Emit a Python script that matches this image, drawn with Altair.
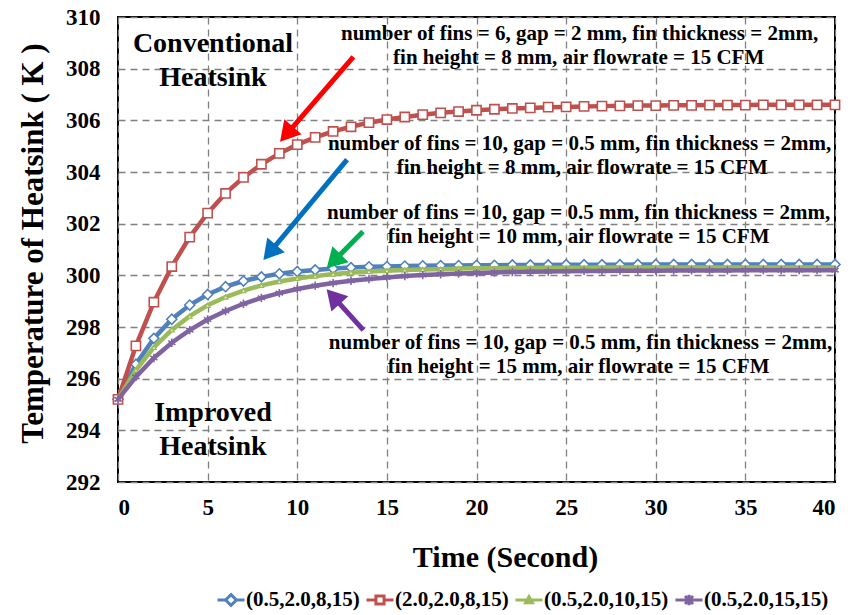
import math
import altair as alt
import pandas as pd

# ---------------- data ----------------
time_s = list(range(41))
series_names = ["(0.5,2.0,8,15)", "(2.0,2.0,8,15)", "(0.5,2.0,10,15)", "(0.5,2.0,15,15)"]
series_colors = ["#4F81BD", "#C0504D", "#9BBB59", "#8064A2"]

blue_T = [295.2, 296.56, 297.56, 298.30, 298.85, 299.26, 299.56, 299.78, 299.94, 300.06,
          300.15, 300.21, 300.26, 300.30, 300.33, 300.34, 300.36, 300.37, 300.38, 300.38,
          300.39, 300.39, 300.40, 300.40, 300.40, 300.41, 300.41, 300.41, 300.41, 300.42,
          300.42, 300.42, 300.42, 300.42, 300.42, 300.42, 300.42, 300.42, 300.42, 300.42, 300.42]
red_T = [295.2, 297.27, 298.96, 300.34, 301.48, 302.41, 303.17, 303.79, 304.30, 304.72,
         305.06, 305.34, 305.57, 305.75, 305.91, 306.03, 306.13, 306.22, 306.29, 306.34,
         306.39, 306.43, 306.46, 306.48, 306.51, 306.52, 306.54, 306.55, 306.56, 306.57,
         306.57, 306.58, 306.58, 306.59, 306.59, 306.59, 306.60, 306.60, 306.60, 306.60, 306.60]
green_T = [295.2, 296.33, 297.21, 297.89, 298.42, 298.84, 299.16, 299.41, 299.61, 299.76,
           299.88, 299.97, 300.05, 300.10, 300.15, 300.18, 300.21, 300.23, 300.24, 300.26,
           300.27, 300.27, 300.28, 300.28, 300.29, 300.29, 300.29, 300.30, 300.30, 300.30,
           300.30, 300.30, 300.30, 300.30, 300.30, 300.30, 300.30, 300.30, 300.30, 300.30, 300.30]
purple_T = [295.2, 296.07, 296.80, 297.39, 297.88, 298.29, 298.62, 298.90, 299.13, 299.31,
            299.47, 299.60, 299.70, 299.79, 299.86, 299.92, 299.97, 300.01, 300.04, 300.07,
            300.09, 300.11, 300.13, 300.14, 300.15, 300.16, 300.17, 300.17, 300.18, 300.18,
            300.18, 300.19, 300.19, 300.19, 300.19, 300.20, 300.20, 300.20, 300.20, 300.20, 300.20]

x_ticks = [0, 5, 10, 15, 20, 25, 30, 35, 40]
y_ticks = [292, 294, 296, 298, 300, 302, 304, 306, 308, 310]

# annotation texts and anchor points (data units)
note_text = ["Conventional", "Heatsink", "Improved", "Heatsink"]
note_t = [5.3, 5.3, 5.3, 5.3]
note_T = [308.95, 307.64, 294.67, 293.35]

desc_text = [
    "number of fins = 6, gap = 2 mm, fin thickness = 2mm,",
    "fin height = 8 mm, air flowrate = 15 CFM",
    "number of fins = 10, gap = 0.5 mm, fin thickness = 2mm,",
    "fin height = 8 mm, air flowrate = 15 CFM",
    "number of fins = 10, gap = 0.5 mm, fin thickness = 2mm,",
    "fin height = 10 mm, air flowrate = 15 CFM",
    "number of fins = 10, gap = 0.5 mm, fin thickness = 2mm,",
    "fin height = 15 mm, air flowrate = 15 CFM",
]
desc_t = [25.75, 25.7, 25.75, 25.9, 25.7, 25.7, 25.8, 25.7]
desc_T = [309.34, 308.41, 305.08, 304.15, 302.41, 301.48, 297.38, 296.45]

arrow_color = ["#FF0000", "#0070C0", "#00B050", "#7030A0"]
arrow_tail_t = [13.13, 12.78, 13.67, 13.69]
arrow_tail_T = [308.46, 304.48, 301.70, 297.88]
arrow_head_t = [9.04, 8.11, 11.64, 11.64]
arrow_head_T = [305.17, 300.59, 300.27, 299.46]

# ---------------- layout ----------------
PLOT_W, PLOT_H = 717, 465
X_MAX, Y_MIN, Y_MAX = 40, 292, 310
FONT = "Liberation Serif"

series_df = pd.DataFrame({
    "t": time_s * 4,
    "T": blue_T + red_T + green_T + purple_T,
    "series": sum([[n] * len(time_s) for n in series_names], []),
})

xs = alt.Scale(domain=[0, X_MAX], nice=False, zero=False)
ys = alt.Scale(domain=[Y_MIN, Y_MAX], nice=False, zero=False)

X = alt.X("t:Q", scale=xs, axis=alt.Axis(
    values=x_ticks, title="Time (Second)", titleX=387, titleY=75,
    titleBaseline="middle", titleAlign="center"))
Y = alt.Y("T:Q", scale=ys, axis=alt.Axis(
    values=y_ticks, title="Temperature of Heatsink ( K )", titleX=-85, titleY=226,
    titleAngle=270, titleBaseline="middle", titleAlign="center", titleFontSize=31))

marker_specs = [
    dict(shape="diamond", size=100, fill="white", sw=1.6),
    dict(shape="square", size=85, fill="white", sw=1.6),
    dict(shape="triangle-up", size=22, fill="#E8F0D8", sw=1.2),
    dict(shape="M0,-1V1M-0.87,-0.5L0.87,0.5M-0.87,0.5L0.87,-0.5", size=70, fill="transparent", sw=1.6),
]
series_layers = []
for name, col, spec in zip(series_names, series_colors, marker_specs):
    base = alt.Chart(series_df).transform_filter(alt.datum.series == name)
    series_layers.append(base.mark_line(strokeWidth=4.5, stroke=col).encode(x=X, y=Y, order=alt.Order("t:Q")))
    series_layers.append(
        base.mark_point(shape=spec["shape"], size=spec["size"], filled=False, fill=spec["fill"],
                        stroke=col, strokeWidth=spec["sw"], opacity=1).encode(x=X, y=Y)
    )

legend_paths = [
    "M-1,0H-0.4M0.4,0H1M0,-0.4L0.4,0L0,0.4L-0.4,0Z",
    "M-1,0H-0.3M0.3,0H1M-0.3,-0.3H0.3V0.3H-0.3Z",
    "M-1,0H1M0,-0.25L0.25,0.2H-0.25Z",
    "M-1,0H1M-0.3,-0.3L0.3,0.3M-0.3,0.3L0.3,-0.3M0,-0.38V0.38",
]
legend_layer = alt.Chart(series_df).mark_point(filled=False, size=729, opacity=0).encode(
    x=X, y=Y,
    color=alt.Color("series:N", scale=alt.Scale(domain=series_names, range=series_colors),
                    legend=alt.Legend(title=None, orient="none", legendX=98, legendY=568,
                                      direction="horizontal", columns=4, gridAlign="none",
                                      symbolOpacity=1, symbolSize=729, symbolStrokeWidth=3,
                                      labelFont=FONT, labelFontSize=21, labelFontWeight="bold",
                                      labelColor="black", labelOffset=0, columnPadding=0,
                                      padding=0)),
    shape=alt.Shape("series:N", scale=alt.Scale(domain=series_names, range=legend_paths)),
)

# arrows
px_s = PLOT_W / X_MAX
px_K = PLOT_H / (Y_MAX - Y_MIN)
HEAD = 520
h = math.sqrt(3) * (math.sqrt(HEAD) / 2) / 2
rows = []
for c, t1, T1, t2, T2 in zip(arrow_color, arrow_tail_t, arrow_tail_T, arrow_head_t, arrow_head_T):
    dx = (t2 - t1) * px_s
    dy = -(T2 - T1) * px_K
    L = math.hypot(dx, dy)
    ux, uy = dx / L, dy / L
    ct = t2 - h * ux / px_s
    cT = T2 + h * uy / px_K
    ang = math.degrees(math.atan2(ux, -uy)) % 360
    rows.append(dict(color=c, t1=t1, T1=T1, ct=ct, cT=cT, angle=ang))
arrow_df = pd.DataFrame(rows)

shafts = alt.Chart(arrow_df).mark_rule(strokeWidth=5).encode(
    x=alt.X("t1:Q", scale=xs), y=alt.Y("T1:Q", scale=ys),
    x2="ct:Q", y2="cT:Q", stroke=alt.Stroke("color:N", scale=None))
heads = alt.Chart(arrow_df).mark_point(shape="triangle-up", size=HEAD, filled=True, opacity=1).encode(
    x=alt.X("ct:Q", scale=xs), y=alt.Y("cT:Q", scale=ys),
    angle=alt.Angle("angle:Q", scale=None), fill=alt.Fill("color:N", scale=None))

notes_df = pd.DataFrame({"t": note_t, "T": note_T, "txt": note_text})
notes = alt.Chart(notes_df).mark_text(font=FONT, fontSize=28, fontWeight="bold", color="black",
                                      align="center", baseline="middle").encode(
    x=alt.X("t:Q", scale=xs), y=alt.Y("T:Q", scale=ys), text="txt:N")

desc_df = pd.DataFrame({"t": desc_t, "T": desc_T, "txt": desc_text})
descs = alt.Chart(desc_df).mark_text(font=FONT, fontSize=21, fontWeight="bold", color="black",
                                     align="center", baseline="middle").encode(
    x=alt.X("t:Q", scale=xs), y=alt.Y("T:Q", scale=ys), text="txt:N")

chart = alt.layer(*series_layers, legend_layer, shafts, heads, notes, descs).properties(
    width=PLOT_W, height=PLOT_H,
    autosize=alt.AutoSizeParams(type="none"),
    padding={"left": 118, "top": 17, "right": 13, "bottom": 133},
    background="white",
).configure_view(stroke="black", strokeWidth=2).configure_axis(
    grid=True, gridColor="#808080", gridDash=[7, 5], gridWidth=1.3,
    domain=False, ticks=False,
    labelFont=FONT, labelFontSize=23, labelFontWeight="bold", labelColor="black",
    titleFont=FONT, titleFontSize=30, titleFontWeight="bold", titleColor="black",
).configure_axisX(labelPadding=14).configure_axisY(labelPadding=18)

chart.save("out.html", embed_options={"renderer": "svg", "actions": False})
